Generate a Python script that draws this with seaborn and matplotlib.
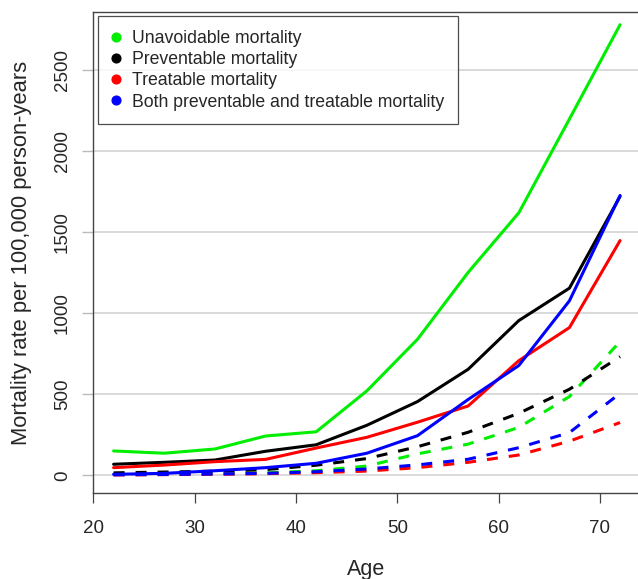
import numpy as np
import pandas as pd
import matplotlib
matplotlib.use("Agg")
import matplotlib.pyplot as plt
import seaborn as sns
from matplotlib.lines import Line2D

ages = [22, 27, 32, 37, 42, 47, 52, 57, 62, 67, 72]

# solid lines
unavoidable = [150, 136, 162, 242, 268, 520, 838, 1250, 1617, 2195, 2776]
preventable = [68, 80, 94, 148, 188, 308, 454, 653, 953, 1153, 1718]
treatable = [47, 63, 84, 98, 168, 234, 327, 427, 706, 910, 1446]
both = [6, 12, 28, 47, 74, 136, 244, 467, 676, 1075, 1724]

# dashed lines
unavoidable_d = [8, 10, 10, 15, 28, 57, 132, 192, 295, 485, 824]
preventable_d = [15, 20, 25, 35, 62, 103, 176, 265, 382, 530, 731]
treatable_d = [2, 4, 6, 10, 16, 26, 47, 80, 125, 210, 325]
both_d = [3, 5, 8, 12, 22, 39, 64, 99, 170, 263, 505]

labels = ["Unavoidable mortality", "Preventable mortality",
          "Treatable mortality", "Both preventable and treatable mortality"]
colors = ["#00EE00", "#000000", "#FF0000", "#0000FF"]

solid = [unavoidable, preventable, treatable, both]
dashed = [unavoidable_d, preventable_d, treatable_d, both_d]

sns.set_style("white")
plt.rcParams['font.family'] = ['Liberation Sans', 'DejaVu Sans']

fig = plt.figure(figsize=(6.38, 5.79), dpi=100)
ax = fig.add_axes([0.1463, 0.148, 0.8537, 0.832])

for y in [0, 500, 1000, 1500, 2000, 2500]:
    ax.axhline(y, color="#d3d3d3", lw=1.2, zorder=0)

# dashed first (drawn below solids)
for vals, c in zip(dashed, colors):
    df = pd.DataFrame({"Age": ages, "v": vals})
    sns.lineplot(data=df, x="Age", y="v", ax=ax, color=c, lw=2.2,
                 dashes=False, linestyle=(0, (3.6, 3.6)), zorder=2)
for vals, c in zip(solid, colors):
    df = pd.DataFrame({"Age": ages, "v": vals})
    sns.lineplot(data=df, x="Age", y="v", ax=ax, color=c, lw=2.2, zorder=3)

ax.set_xlim(20, 73.77)
ax.set_ylim(-111, 2857)
ax.set_xticks([20, 30, 40, 50, 60, 70])
ax.set_yticks([0, 500, 1000, 1500, 2000, 2500])
ax.set_yticklabels(["0", "500", "1000", "1500", "2000", "2500"],
                   rotation=90, va="center")
ax.tick_params(axis="x", length=7, width=0.9, color="#444444",
               labelsize=13.5, pad=12, direction="out", bottom=True)
ax.tick_params(axis="y", length=8, width=1.0, color="#bbbbbb",
               labelsize=13.5, pad=8, direction="out", left=True)
for s in ["left", "bottom", "top"]:
    ax.spines[s].set_color("#444444")
    ax.spines[s].set_linewidth(1.0)
ax.spines["right"].set_visible(False)

ax.set_xlabel("Age", fontsize=15.5, labelpad=16)
ax.set_ylabel("Mortality rate per 100,000 person-years", fontsize=15.8,
              labelpad=16)

handles = [Line2D([0], [0], marker="o", linestyle="none", color=c,
                  markersize=6.3) for c in colors]
leg = ax.legend(handles, labels, loc="upper left",
                bbox_to_anchor=(0.0087, 0.991), borderaxespad=0,
                fontsize=12.7, frameon=True, fancybox=False,
                handletextpad=0.73, labelspacing=0.245, borderpad=0.78,
                handlelength=0.43)
leg.get_frame().set_edgecolor("#222222")
leg.get_frame().set_linewidth(0.9)

fig.savefig("out.png", dpi=100)
